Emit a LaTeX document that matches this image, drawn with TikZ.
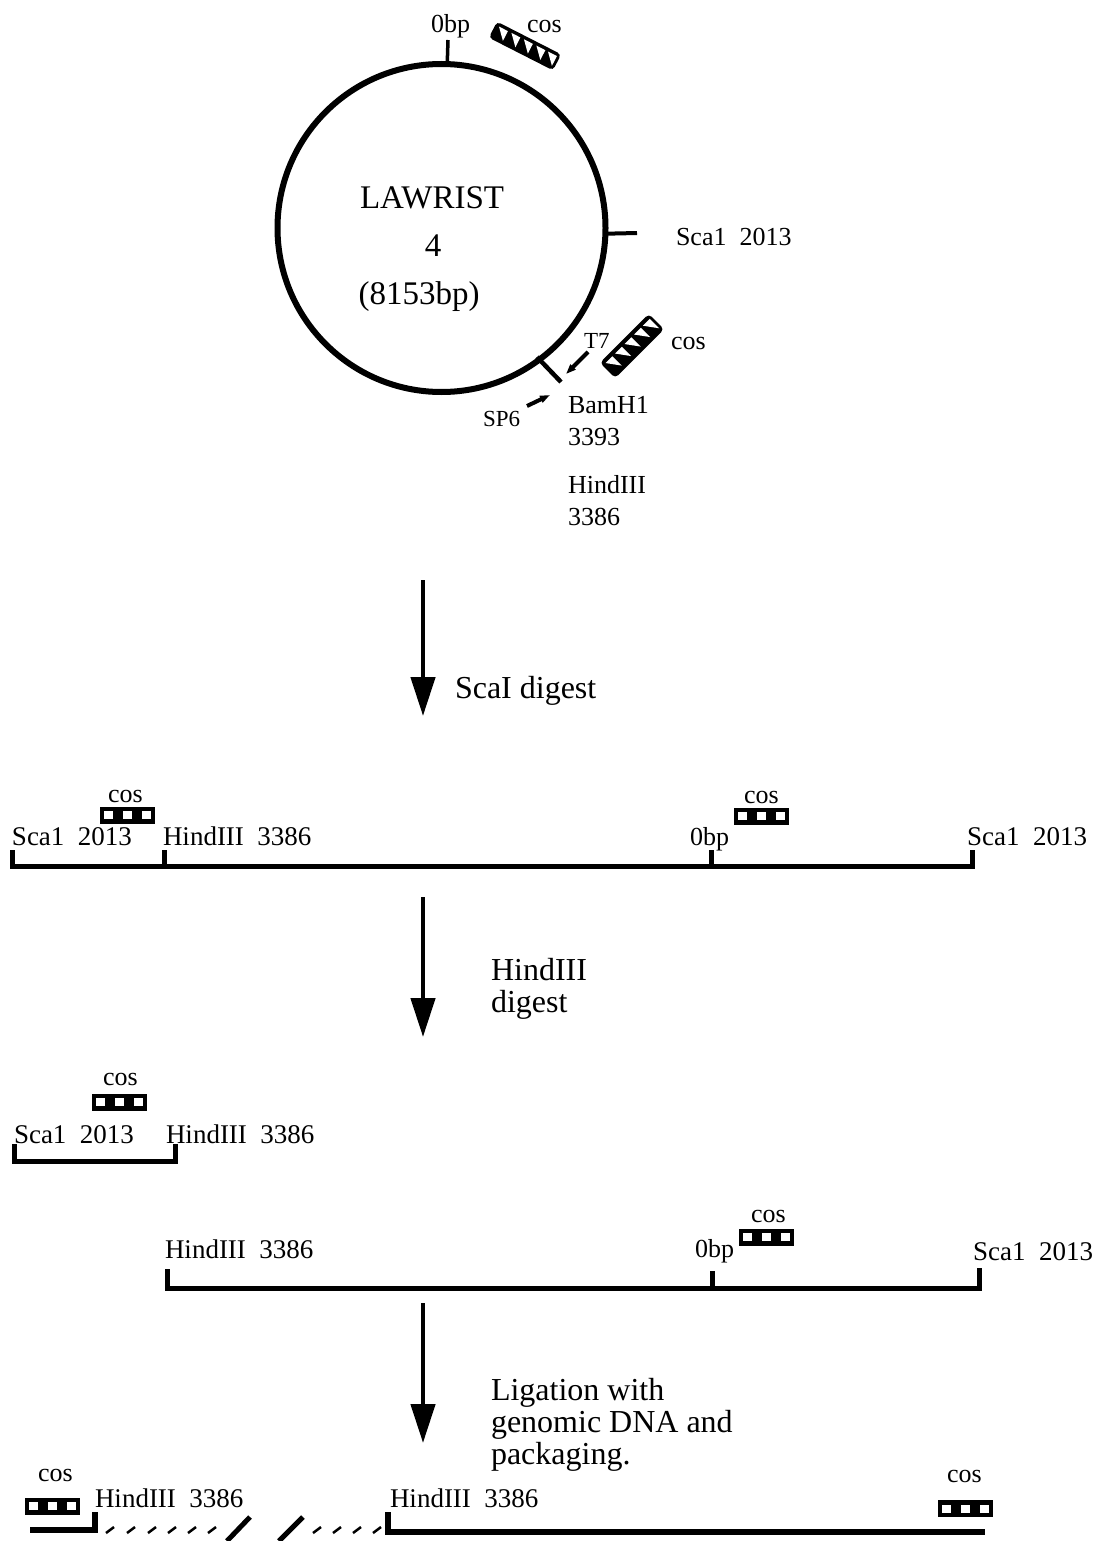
\documentclass[tikz,border=0pt]{standalone}
\usepackage{fontspec}
\setmainfont{Liberation Serif}
\usetikzlibrary{arrows.meta, positioning, calc}

\begin{document}
\begin{tikzpicture}[
    x=1pt, y=-1pt,
    lbl/.style={font=\fontsize{26}{30}\selectfont, anchor=base west, inner sep=0pt, outer sep=0pt},
    maplbl/.style={lbl, font=\fontsize{27}{30}\selectfont},
    biglbl/.style={font=\fontsize{32}{36}\selectfont, anchor=base west, inner sep=0pt, outer sep=0pt},
    titlelbl/.style={font=\fontsize{33}{36}\selectfont, anchor=base, inner sep=0pt, outer sep=0pt},
    dna/.style={line width=5pt, line cap=butt, line join=miter},
    digestarrow/.style={line width=4.5pt, -{Triangle[length=39pt, width=24pt]}},
    primer/.style={line width=4pt, -{Triangle[length=10pt, width=7pt]}},
    slash/.style={line width=2.5pt},
    bigslash/.style={line width=5pt}
]

\useasboundingbox (0,0) rectangle (1102,1541);

% ==========================================
% 1. cos marks
% ==========================================
\tikzset{
    cosbox/.pic={
        \fill[black] (-27.5,-8.5) rectangle (27.5,8.5);
        \foreach \x in {-19,0,19} {
            \fill[white] (\x-4.5,-4) rectangle (\x+4.5,4);
        }
    },
    cosstrip/.pic={
        \fill[black, rounded corners=4pt] (-36,-9) rectangle (36,9);
        \foreach \x in {-27,-13,1,15,28} {
            \fill[white] (\x-5,-5.5) -- (\x+5,-5.5) -- (\x+5,5.5) -- cycle;
        }
    }
}

% ==========================================
% 2. Plasmid
% ==========================================
\node[circle, draw, line width=6pt, minimum size=328pt, inner sep=0pt, outer sep=0pt] (plasmid) at (441.5,228) {};

\node[titlelbl] (plasmidName) at (432,208) {LAWRIST};
\node[titlelbl] (plasmidNum) at (433,256) {4};
\node[titlelbl] (plasmidSize) at (419,304) {(8153bp)};

\coordinate (zeroTop) at (448,40);
\coordinate (scaEnd) at (637,233);
\coordinate (bamEnd) at (561,382);
\draw[line width=3.5pt] (plasmid.88) -- (zeroTop);
\draw[line width=4pt] (plasmid.-2) -- (scaEnd);
\draw[line width=4.5pt] (537,357) -- (bamEnd);

\node[lbl] (lblZero) at (431,33) {0bp};
\node[lbl] (lblCosA) at (527,33) {cos};
\pic[rotate=-27] (cosA) at (525,46) {cosstrip};
\node[lbl] (lblSca) at (676,245) {Sca1\ \ 2013};
\node[lbl] (lblCosB) at (671,349) {cos};
\pic[rotate=45, yscale=1.2, xscale=.96] (cosB) at (632,346) {cosstrip};

\node[lbl, font=\fontsize{23}{26}\selectfont] (lblT) at (584,348) {T7};
\node[lbl, font=\fontsize{23}{26}\selectfont] (lblSP) at (483,426) {SP6};
\coordinate (tStart) at (588,352);
\coordinate (tTip) at (566,374);
\coordinate (spStart) at (527,406);
\coordinate (spTip) at (550,395);
\draw[primer] (tStart) -- (tTip);
\draw[primer] (spStart) -- (spTip);

\node[lbl] (lblBam) at (568,413) {BamH1};
\node[lbl] (lblBamNum) at (568,445) {3393};
\node[lbl] (lblHind) at (568,493) {HindIII};
\node[lbl] (lblHindNum) at (568,525) {3386};

% ==========================================
% 3. Digest arrows
% ==========================================
\foreach \name/\ya/\yb in {scaArrow/580/716, hindArrow/897/1037, ligArrow/1303/1443} {
    \coordinate (\name-a) at (423,\ya);
    \coordinate (\name-b) at (423,\yb);
    \draw[digestarrow] (\name-a) -- (\name-b);
}
\node[biglbl] (lblScaDigest) at (455,698) {ScaI digest};
\node[biglbl] (lblHindDigest) at (491,980) {HindIII};
\node[biglbl] (lblHindDigestB) at (491,1012) {digest};
\node[biglbl] (lblLigA) at (491,1400) {Ligation with};
\node[biglbl] (lblLigB) at (491,1432) {genomic DNA and};
\node[biglbl] (lblLigC) at (491,1464) {packaging.};

% ==========================================
% 4. Linear map after ScaI
% ==========================================
\coordinate (fullL) at (12,850);
\coordinate (fullH) at (164,850);
\coordinate (fullZ) at (711,850);
\coordinate (fullR) at (972,850);
\draw[dna] (fullL) |- (fullR |- 0,866) -- (fullR);
\draw[dna] (fullH) -- (fullH |- 0,866);
\draw[dna] (fullZ) -- (fullZ |- 0,866);

\node[maplbl] (fullSca) at (12,845) {Sca1\ \ 2013};
\node[maplbl] (fullHind) at (163,845) {HindIII\ \ 3386};
\node[lbl] (fullZero) at (690,845) {0bp};
\node[maplbl] (fullScaB) at (967,845) {Sca1\ \ 2013};
\node[lbl] (fullCosA) at (108,802) {cos};
\pic (cosC) at (127.5,815) {cosbox};
\node[lbl] (fullCosB) at (744,803) {cos};
\pic (cosD) at (761.5,816) {cosbox};

% ==========================================
% 5. Fragments after HindIII
% ==========================================
\coordinate (leftL) at (14,1144);
\coordinate (leftR) at (175,1144);
\draw[dna] (leftL) |- (leftR |- 0,1161) -- (leftR);
\node[maplbl] (leftSca) at (14,1143) {Sca1\ \ 2013};
\node[maplbl] (leftHind) at (166,1143) {HindIII\ \ 3386};
\node[lbl] (leftCos) at (103,1085) {cos};
\pic (cosE) at (119.5,1102) {cosbox};

\coordinate (rightL) at (167,1269);
\coordinate (rightZ) at (712,1271);
\coordinate (rightR) at (979,1268);
\draw[dna] (rightL) |- (rightR |- 0,1288) -- (rightR);
\draw[dna] (rightZ) -- (rightZ |- 0,1288);
\node[maplbl] (rightHind) at (165,1258) {HindIII\ \ 3386};
\node[lbl] (rightZero) at (695,1257) {0bp};
\node[maplbl] (rightSca) at (973,1260) {Sca1\ \ 2013};
\node[lbl] (rightCos) at (751,1222) {cos};
\pic (cosF) at (766.5,1237) {cosbox};

% ==========================================
% 6. Ligated ends with genomic DNA
% ==========================================
\coordinate (ligA) at (30,1530);
\coordinate (ligB) at (95,1512);
\coordinate (ligC) at (388,1512);
\coordinate (ligD) at (985,1532);
\draw[dna, line width=6pt] (ligA) -| (ligB);
\draw[dna, line width=6pt] (ligC) |- (ligD);

\foreach \x in {110,131,152,172,192,212,317,337,357,377} {
    \draw[slash] (\x+4,1527) -- (\x-4,1533);
}
\draw[bigslash] (250,1517) -- (227,1541);
\draw[bigslash] (303,1517) -- (279,1541);

\node[maplbl] (ligHindA) at (95,1507) {HindIII\ \ 3386};
\node[maplbl] (ligHindB) at (390,1507) {HindIII\ \ 3386};
\node[lbl] (ligCosA) at (38,1481) {cos};
\pic (cosG) at (52,1506) {cosbox};
\node[lbl] (ligCosB) at (947,1482) {cos};
\pic (cosH) at (965.5,1508.5) {cosbox};

\end{tikzpicture}
\end{document}
